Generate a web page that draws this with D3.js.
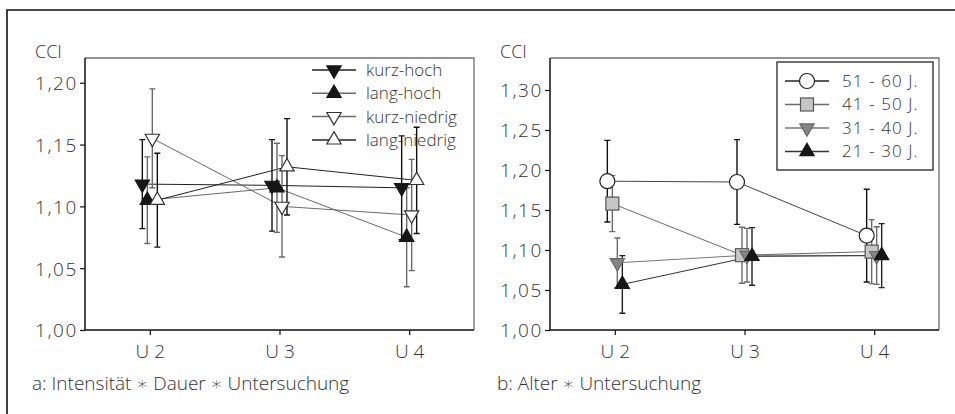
<!DOCTYPE html>
<html>
<head>
<meta charset="utf-8">
<script src="https://cdn.jsdelivr.net/npm/d3@7"></script>
<style>
  html, body { margin: 0; padding: 0; background: #fff; }
  svg text { font-family: "Open Sans", "DejaVu Sans", sans-serif; font-weight: 300; fill: #333; }
</style>
</head>
<body>
<svg id="chart" width="955" height="414"></svg>
<script>
// Examination time points
const categories = ["U 2", "U 3", "U 4"];

// Panel a: intensity * duration (mean CCI and error half-width)
const kurzHoch      = [1.118, 1.117, 1.115];
const kurzHochErr   = [0.036, 0.037, 0.042];
const langHoch      = [1.105, 1.115, 1.075];
const langHochErr   = [0.035, 0.036, 0.040];
const kurzNiedrig   = [1.155, 1.100, 1.093];
const kurzNiedrigErr= [0.040, 0.041, 0.045];
const langNiedrig   = [1.105, 1.132, 1.121];
const langNiedrigErr= [0.038, 0.039, 0.043];
const ticksA = [1.00, 1.05, 1.10, 1.15, 1.20];

// Panel b: age groups
const alter5160     = [1.186, 1.185, 1.118];
const alter5160Err  = [0.051, 0.053, 0.058];
const alter4150     = [1.158, 1.0935, 1.098];
const alter4150Err  = [0.035, 0.035, 0.040];
const alter3140     = [1.084, 1.0935, 1.093];
const alter3140Err  = [0.031, 0.0335, 0.036];
const alter2130     = [1.057, 1.092, 1.093];
const alter2130Err  = [0.036, 0.036, 0.040];
const ticksB = [1.00, 1.05, 1.10, 1.15, 1.20, 1.25, 1.30];

const fmt = v => d3.format(".2f")(v).replace(".", ",");

const svg = d3.select("#chart");

// outer frame (top and left edge)
svg.append("path")
  .attr("d", "M7,414 L7,10 L955,10")
  .attr("fill", "none").attr("stroke", "#111").attr("stroke-width", 1.6);

const seriesA = [
  { name: "kurz-hoch",    values: kurzHoch,    err: kurzHochErr,    shape: "down", fill: "#161616", stroke: "#161616", line: "#222", bar: "#111" },
  { name: "lang-hoch",    values: langHoch,    err: langHochErr,    shape: "up",   fill: "#161616", stroke: "#161616", line: "#6a6a6a", bar: "#6a6a6a" },
  { name: "kurz-niedrig", values: kurzNiedrig, err: kurzNiedrigErr, shape: "down", fill: "#fff",    stroke: "#333",    line: "#6a6a6a", bar: "#6a6a6a" },
  { name: "lang-niedrig", values: langNiedrig, err: langNiedrigErr, shape: "up",   fill: "#fff",    stroke: "#333",    line: "#222", bar: "#111" }
];

const seriesB = [
  { name: "51 - 60 J.", values: alter5160, err: alter5160Err, shape: "circle", fill: "#fff",    stroke: "#222", line: "#444", bar: "#111" },
  { name: "41 - 50 J.", values: alter4150, err: alter4150Err, shape: "square", fill: "#c6c6c6", stroke: "#555", line: "#6a6a6a", bar: "#6a6a6a" },
  { name: "31 - 40 J.", values: alter3140, err: alter3140Err, shape: "down",   fill: "#858585", stroke: "#666", line: "#777", bar: "#6a6a6a" },
  { name: "21 - 30 J.", values: alter2130, err: alter2130Err, shape: "up",     fill: "#161616", stroke: "#161616", line: "#333", bar: "#222" }
];

function marker(g, shape, d) {
  if (shape === "circle") {
    g.append("circle").attr("r", 7.5).attr("fill", d.fill).attr("stroke", d.stroke).attr("stroke-width", 1.2);
  } else if (shape === "square") {
    g.append("rect").attr("x", -6.5).attr("y", -6.5).attr("width", 13).attr("height", 13)
      .attr("fill", d.fill).attr("stroke", d.stroke).attr("stroke-width", 1.2);
  } else {
    g.append("path").attr("d", d3.symbol().type(d3.symbolTriangle).size(88)())
      .attr("transform", shape === "down" ? "rotate(180)" : null)
      .attr("fill", d.fill).attr("stroke", d.stroke).attr("stroke-width", 1.2);
  }
}

function panel(opts) {
  const { x0, x1, y0, y1, domain, ticks, series, caption, captionX, legend } = opts;
  const g = svg.append("g");
  const x = d3.scalePoint().domain(categories).range([x0, x1]).padding(0.5);
  const y = d3.scaleLinear().domain(domain).range([y1, y0]);
  const offsets = [-7.5, -2.5, 2.5, 7.5];

  // frame: top/right light, left/bottom as axes
  g.append("path").attr("d", `M${x0},${y0} L${x1},${y0} L${x1},${y1}`)
    .attr("fill", "none").attr("stroke", "#707070").attr("stroke-width", 1.3);

  const yAxis = d3.axisLeft(y).tickValues(ticks).tickFormat(fmt).tickSize(5).tickPadding(2);
  const ya = g.append("g").attr("transform", `translate(${x0},0)`).call(yAxis);
  const xAxis = d3.axisBottom(x).tickSize(5).tickPadding(10);
  const xa = g.append("g").attr("transform", `translate(0,${y1})`).call(xAxis);
  [ya, xa].forEach(a => {
    a.select(".domain").attr("stroke", "#111").attr("stroke-width", 1.5);
    a.selectAll(".tick line").attr("stroke", "#111").attr("stroke-width", 1.2);
    a.selectAll("text").style("font-size", "19px").attr("fill", "#333");
  });
  ya.selectAll("text").attr("dy", "0.36em").style("letter-spacing", "1.6px");
  xa.selectAll(".domain").attr("d", `M${x0},0H${x1}`);
  ya.selectAll(".domain").attr("d", `M0,${y1}V${y0}`);

  g.append("text").attr("x", x0 - 50).attr("y", y0).style("font-size", "18px").text("CCI");

  const xs = (i, k) => x(categories[k]) + offsets[i];

  // connecting lines
  series.forEach((s, i) => {
    g.append("path")
      .attr("d", d3.line().x((v, k) => xs(i, k)).y(v => y(v))(s.values))
      .attr("fill", "none").attr("stroke", s.line).attr("stroke-width", 1);
  });
  // error bars
  series.forEach((s, i) => {
    s.values.forEach((v, k) => {
      const cx = xs(i, k), top = y(v + s.err[k]), bot = y(v - s.err[k]);
      g.append("path")
        .attr("d", `M${cx},${top}V${bot}M${cx - 3},${top}H${cx + 3}M${cx - 3},${bot}H${cx + 3}`)
        .attr("stroke", s.bar).attr("stroke-width", 1.4).attr("fill", "none");
    });
  });
  // markers
  series.forEach((s, i) => {
    s.values.forEach((v, k) => {
      const m = g.append("g").attr("transform", `translate(${xs(i, k)},${y(v)})`);
      marker(m, s.shape, s);
    });
  });

  // legend
  const lg = g.append("g");
  if (legend.box) {
    lg.append("rect").attr("x", legend.box[0]).attr("y", legend.box[1])
      .attr("width", legend.box[2]).attr("height", legend.box[3])
      .attr("fill", "#fff").attr("stroke", "#333").attr("stroke-width", 1.4);
  }
  series.forEach((s, i) => {
    const ly = legend.y0 + i * legend.dy;
    lg.append("line").attr("x1", legend.lx0).attr("x2", legend.lx1).attr("y1", ly).attr("y2", ly)
      .attr("stroke", s.line === "#444" ? "#222" : s.line).attr("stroke-width", 1.5);
    const m = lg.append("g").attr("transform", `translate(${(legend.lx0 + legend.lx1) / 2},${ly})`);
    marker(m, s.shape, s);
    lg.append("text").attr("x", legend.tx).attr("y", ly).attr("dy", "0.35em")
      .style("font-size", legend.fs).style("letter-spacing", legend.ls).text(s.name);
  });

  g.append("text").attr("x", captionX).attr("y", 383).attr("dy", "0.35em")
    .style("font-size", "19px").text(caption);
}

panel({
  x0: 85, x1: 474, y0: 58, y1: 330, domain: [1.0, 1.22], ticks: ticksA, series: seriesA,
  caption: "a: Intensität \u2217 Dauer \u2217 Untersuchung", captionX: 32,
  legend: { y0: 70, dy: 23.3, lx0: 312, lx1: 356, tx: 366, fs: "17px", ls: "0px" }
});

panel({
  x0: 550, x1: 939, y0: 58, y1: 330, domain: [1.0, 1.34], ticks: ticksB, series: seriesB,
  caption: "b: Alter \u2217 Untersuchung", captionX: 497,
  legend: { box: [777, 62, 156, 108], y0: 81, dy: 23.5, lx0: 785, lx1: 829, tx: 842, fs: "17px", ls: "1.1px" }
});
</script>
</body>
</html>
